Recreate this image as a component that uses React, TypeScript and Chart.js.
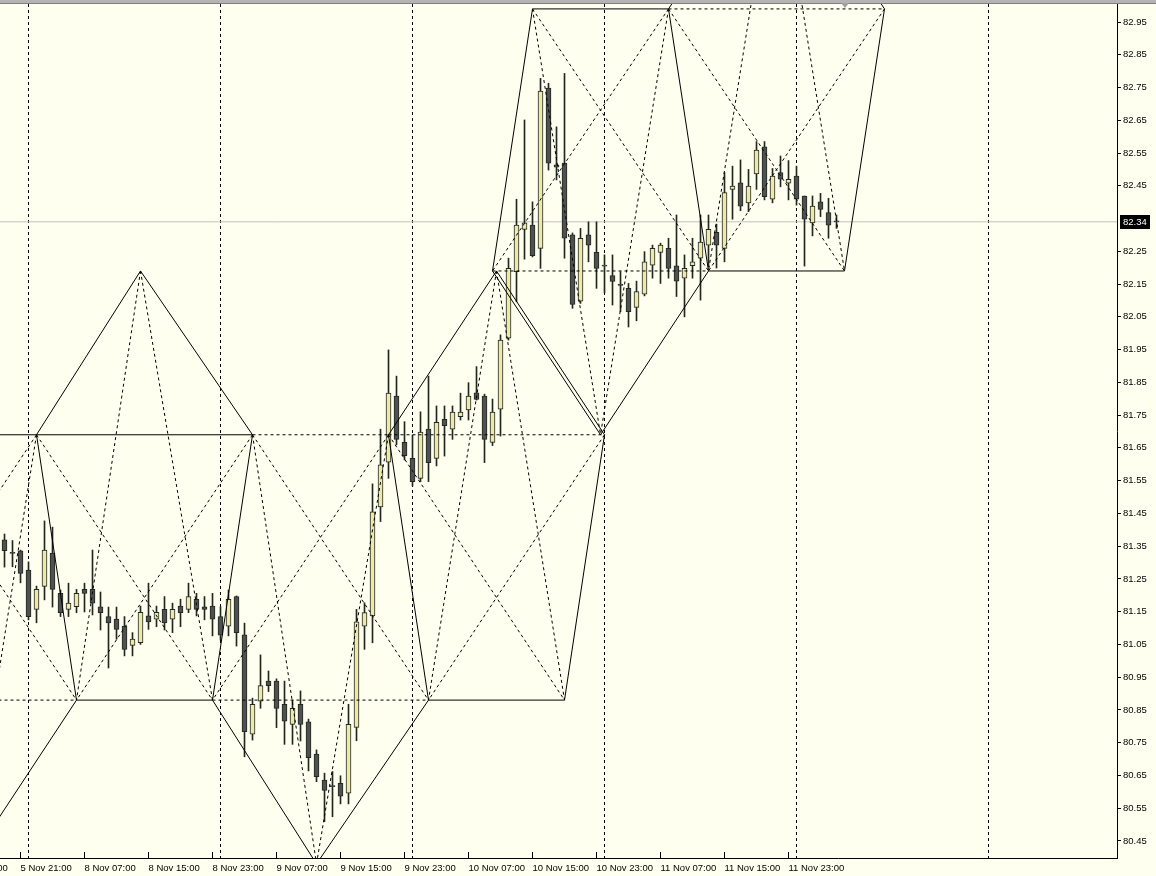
import React, { useEffect, useRef } from 'react';
import { Chart, registerables } from 'chart.js';

Chart.register(...registerables);

// ---------- candle data (H1 bars, index 0 = first visible bar) ----------
const opens = [
  81.369, 81.330, 81.336, 81.277, 81.157, 81.227, 81.329, 81.206, 81.157, 81.165,
  81.218, 81.218, 81.165, 81.135, 81.127, 81.106, 81.047, 81.055, 81.137, 81.127,
  81.157, 81.127, 81.167, 81.157, 81.188, 81.165, 81.167, 81.135, 81.106, 81.196,
  81.079, 80.776, 80.877, 80.938, 80.938, 80.867, 80.806, 80.867, 80.814, 80.715,
  80.636, 80.618, 80.626, 80.596, 80.797, 81.106, 81.137, 81.470, 81.606, 81.808,
  81.667, 81.618, 81.557, 81.707, 81.618, 81.737, 81.707, 81.745, 81.766, 81.818,
  81.808, 81.667, 81.768, 81.985, 82.188, 82.317, 82.330, 82.259, 82.748, 82.514,
  82.519, 82.300, 82.098, 82.300, 82.247, 82.208, 82.176, 82.150, 82.137, 82.079,
  82.119, 82.208, 82.247, 82.259, 82.206, 82.168, 82.206, 82.229, 82.269, 82.308,
  82.259, 82.439, 82.459, 82.398, 82.486, 82.569, 82.409, 82.490, 82.458, 82.480,
  82.419, 82.337, 82.401, 82.368, 82.340,
];
const highs = [
  81.387, 81.367, 81.338, 81.302, 81.228, 81.427, 81.408, 81.216, 81.237, 81.218,
  81.237, 81.338, 81.210, 81.164, 81.164, 81.135, 81.086, 81.167, 81.237, 81.167,
  81.196, 81.176, 81.188, 81.237, 81.206, 81.196, 81.206, 81.165, 81.216, 81.198,
  81.115, 80.886, 81.018, 80.969, 80.945, 80.938, 80.880, 80.908, 80.822, 80.728,
  80.657, 80.662, 80.649, 80.867, 81.157, 81.177, 81.540, 81.707, 81.949, 81.869,
  81.730, 81.689, 81.760, 81.869, 81.778, 81.778, 81.778, 81.817, 81.849, 81.898,
  81.814, 81.799, 81.995, 82.229, 82.409, 82.651, 82.401, 82.778, 82.763, 82.630,
  82.793, 82.306, 82.320, 82.340, 82.340, 82.239, 82.239, 82.188, 82.152, 82.159,
  82.249, 82.269, 82.275, 82.290, 82.361, 82.239, 82.290, 82.361, 82.361, 82.333,
  82.490, 82.510, 82.529, 82.500, 82.585, 82.585, 82.503, 82.541, 82.527, 82.510,
  82.419, 82.419, 82.427, 82.412, 82.361,
];
const lows = [
  81.286, 81.287, 81.238, 81.125, 81.116, 81.186, 81.164, 81.135, 81.135, 81.147,
  81.149, 81.140, 81.094, 80.978, 81.066, 81.015, 81.015, 81.050, 81.096, 81.104,
  81.094, 81.086, 81.104, 81.147, 81.137, 81.125, 81.076, 81.064, 81.076, 81.045,
  80.707, 80.758, 80.855, 80.906, 80.796, 80.745, 80.745, 80.755, 80.664, 80.631,
  80.509, 80.524, 80.563, 80.563, 80.756, 81.035, 81.055, 81.425, 81.557, 81.659,
  81.613, 81.534, 81.547, 81.547, 81.595, 81.625, 81.676, 81.735, 81.735, 81.796,
  81.605, 81.657, 81.686, 81.979, 82.096, 82.226, 82.233, 82.198, 82.498, 82.468,
  82.229, 82.076, 82.091, 82.218, 82.137, 82.123, 82.086, 82.066, 82.019, 82.038,
  82.114, 82.168, 82.152, 82.168, 82.112, 82.050, 82.168, 82.101, 82.203, 82.199,
  82.218, 82.348, 82.374, 82.371, 82.439, 82.407, 82.398, 82.447, 82.407, 82.391,
  82.205, 82.297, 82.356, 82.290, 82.320,
];
const closes = [
  81.336, 81.328, 81.267, 81.135, 81.218, 81.338, 81.218, 81.147, 81.176, 81.206,
  81.206, 81.176, 81.147, 81.116, 81.096, 81.035, 81.066, 81.148, 81.119, 81.148,
  81.116, 81.157, 81.147, 81.196, 81.157, 81.157, 81.127, 81.078, 81.188, 81.086,
  80.784, 80.867, 80.924, 80.924, 80.855, 80.816, 80.855, 80.806, 80.704, 80.646,
  80.604, 80.616, 80.587, 80.806, 81.119, 81.147, 81.455, 81.598, 81.817, 81.676,
  81.626, 81.547, 81.698, 81.605, 81.728, 81.718, 81.759, 81.759, 81.808, 81.798,
  81.676, 81.759, 81.979, 82.198, 82.330, 82.337, 82.237, 82.739, 82.519, 82.507,
  82.290, 82.088, 82.290, 82.269, 82.198, 82.205, 82.158, 82.146, 82.066, 82.127,
  82.218, 82.259, 82.269, 82.198, 82.159, 82.198, 82.218, 82.278, 82.317, 82.269,
  82.429, 82.449, 82.388, 82.449, 82.559, 82.417, 82.480, 82.470, 82.470, 82.409,
  82.348, 82.388, 82.378, 82.330, 82.340,
];

// ---------- axes ----------
const timeTickBars = [-6, 2, 10, 18, 26, 34, 42, 50, 58, 66, 74, 82, 90, 98];
const timeTickLabels = [
  '5 Nov 13:00', '5 Nov 21:00', '8 Nov 07:00', '8 Nov 15:00', '8 Nov 23:00',
  '9 Nov 07:00', '9 Nov 15:00', '9 Nov 23:00', '10 Nov 07:00', '10 Nov 15:00',
  '10 Nov 23:00', '11 Nov 07:00', '11 Nov 15:00', '11 Nov 23:00',
];
const gridBars = [3, 27, 51, 75, 99, 123];
const priceTicks = [
  80.45, 80.55, 80.65, 80.75, 80.85, 80.95, 81.05, 81.15, 81.25, 81.35, 81.45,
  81.55, 81.65, 81.75, 81.85, 81.95, 82.05, 82.15, 82.25, 82.45, 82.55, 82.65,
  82.75, 82.85, 82.95,
];
const bidPrice = 82.34;

// ---------- drawn pattern (bar index, price) ----------
const LV0 = 83.49;
const LV1 = 82.99;
const LV2 = 82.19;
const LV3 = 81.69;
const LV4 = 80.88;
const LV5 = 80.38;

const solidSegments: number[][] = [
  [-13, LV3, 4, LV3], [4, LV3, 9, LV4], [-13, LV3, -18, LV4], [9, LV4, -4.5, LV5], [-18, LV4, -4.5, LV5],
  [4, LV3, 31, LV3], [17, LV2, 4, LV3], [17, LV2, 31, LV3], [31, LV3, 26, LV4], [9, LV4, 26, LV4],
  [48, LV3, 53, LV4], [26, LV4, 39, LV5], [53, LV4, 39, LV5],
  [48, LV3, 61.5, LV2], [61.5, LV2, 75, LV3], [75, LV3, 70, LV4], [53, LV4, 70, LV4],
  [66, LV1, 83, LV1], [66, LV1, 61, LV2], [83, LV1, 88, LV2], [61, LV2, 74.5, LV3], [88, LV2, 74.5, LV3],
  [83, LV1, 96.5, LV0], [96.5, LV0, 110, LV1], [110, LV1, 105, LV2], [88, LV2, 105, LV2],
];
const dashedSegments: number[][] = [
  [-18, LV4, 9, LV4], [-13, LV3, -4.5, LV5], [4, LV3, -4.5, LV5], [-13, LV3, 9, LV4], [4, LV3, -18, LV4],
  [17, LV2, 9, LV4], [17, LV2, 26, LV4], [4, LV3, 26, LV4], [31, LV3, 9, LV4],
  [31, LV3, 48, LV3], [26, LV4, 53, LV4], [31, LV3, 39, LV5], [48, LV3, 39, LV5], [31, LV3, 53, LV4], [48, LV3, 26, LV4],
  [48, LV3, 75, LV3], [61.5, LV2, 53, LV4], [61.5, LV2, 70, LV4], [48, LV3, 70, LV4], [75, LV3, 53, LV4],
  [61, LV2, 88, LV2], [66, LV1, 74.5, LV3], [83, LV1, 74.5, LV3], [66, LV1, 88, LV2], [83, LV1, 61, LV2],
  [83, LV1, 110, LV1], [96.5, LV0, 88, LV2], [96.5, LV0, 105, LV2], [83, LV1, 105, LV2], [110, LV1, 88, LV2],
];

// ---------- view ----------
const X_MIN = -0.5625;
const X_MAX = 139.0625;
const Y_MIN = 80.398;
const Y_MAX = 83.005;

const BG = '#FFFFF0';
const BULL = '#EEE8AA';
const BEAR = '#505050';
const EDGE = '#202820';
const FONT = '"Liberation Sans", Arial, sans-serif';
const FONT_SIZE = 9.5;
const CLEAR = 'rgba(0,0,0,0)';

function toPath(segs: number[][]) {
  const pts: { x: number; y: number | null }[] = [];
  segs.forEach(([x1, y1, x2, y2]) => {
    pts.push({ x: x1, y: y1 }, { x: x2, y: y2 }, { x: x2, y: null });
  });
  return pts;
}

export default function App() {
  const ref = useRef<HTMLCanvasElement>(null);

  useEffect(() => {
    const canvas = ref.current;
    if (!canvas) return;

    const bodies = opens.map((o, i) => ({ x: i, y: [o, closes[i]] }));
    const wicks = lows.map((l, i) => ({ x: i, y: [l, highs[i]] }));
    const bodyColors = opens.map((o, i) => (closes[i] > o ? BULL : BEAR));

    const xTickValues = [...timeTickBars, ...gridBars].sort((a, b) => a - b);
    const isGrid = (v: number) => gridBars.includes(v);

    const bgPlugin = {
      id: 'bg',
      beforeDraw(chart: any) {
        const { ctx, width, height } = chart;
        ctx.save();
        ctx.fillStyle = BG;
        ctx.fillRect(0, 0, width, height);
        ctx.fillStyle = '#b4b4b4';
        ctx.fillRect(0, 0, width, 3);
        ctx.fillStyle = '#808080';
        ctx.fillRect(0, 3, width, 1);
        ctx.restore();
      },
    };

    const bidPlugin = {
      id: 'bidLabel',
      afterDraw(chart: any) {
        const { ctx } = chart;
        const ys = chart.scales.y;
        const y = Math.round(ys.getPixelForValue(bidPrice));
        ctx.save();
        ctx.fillStyle = '#000';
        ctx.fillRect(ys.left + 3, y - 7, 30, 14);
        ctx.fillStyle = '#fff';
        ctx.font = `${FONT_SIZE}px ${FONT}`;
        ctx.textAlign = 'left';
        ctx.textBaseline = 'middle';
        ctx.fillText(bidPrice.toFixed(2), ys.left + 6, y);
        // chart shift marker
        const xs = chart.scales.x;
        const sx = Math.round(xs.getPixelForValue(105));
        ctx.fillStyle = '#a0a0a0';
        ctx.beginPath();
        ctx.moveTo(sx - 4, 3);
        ctx.lineTo(sx + 4, 3);
        ctx.lineTo(sx, 8);
        ctx.closePath();
        ctx.fill();
        ctx.restore();
      },
    };

    const chart = new Chart(canvas, {
      type: 'bar',
      data: {
        datasets: [
          {
            type: 'line',
            data: toPath(solidSegments),
            borderColor: '#000',
            borderWidth: 1,
            pointRadius: 0,
            tension: 0,
            spanGaps: false,
            clip: 0,
            order: 1,
          } as any,
          {
            type: 'line',
            data: toPath(dashedSegments),
            borderColor: '#000',
            borderWidth: 1,
            borderDash: [3, 3],
            pointRadius: 0,
            tension: 0,
            spanGaps: false,
            clip: 0,
            order: 1,
          } as any,
          {
            type: 'bar',
            data: bodies,
            backgroundColor: bodyColors,
            borderColor: EDGE,
            borderWidth: 1,
            borderSkipped: false,
            barThickness: 5,
            minBarLength: 1,
            grouped: false,
            order: 2,
          } as any,
          {
            type: 'bar',
            data: wicks,
            backgroundColor: EDGE,
            borderWidth: 0,
            barThickness: 1,
            grouped: false,
            order: 3,
          } as any,
          {
            type: 'line',
            data: [
              { x: X_MIN, y: bidPrice },
              { x: X_MAX, y: bidPrice },
            ],
            borderColor: '#c0c0c0',
            borderWidth: 1,
            pointRadius: 0,
            order: 4,
          } as any,
        ],
      },
      options: {
        responsive: false,
        animation: false,
        devicePixelRatio: 1,
        events: [],
        layout: { padding: { top: 4, left: 0, right: 0, bottom: 0 }, autoPadding: false },
        plugins: { legend: { display: false }, tooltip: { enabled: false } },
        scales: {
          x: {
            type: 'linear',
            position: 'bottom',
            min: X_MIN,
            max: X_MAX,
            offset: false,
            grid: {
              offset: false,
              drawOnChartArea: true,
              drawTicks: true,
              tickLength: -6,
              lineWidth: 1,
              color: (c: any) => (c.tick && isGrid(c.tick.value) ? '#000' : CLEAR),
              tickColor: (c: any) => (c.tick && isGrid(c.tick.value) ? CLEAR : '#000'),
            },
            border: { display: true, color: '#000', width: 1, dash: [3, 3] },
            ticks: {
              autoSkip: false,
              maxRotation: 0,
              minRotation: 0,
              align: 'start',
              padding: 11,
              color: '#000',
              font: { family: FONT, size: FONT_SIZE },
              callback: (_v: any, i: number, ticks: any[]) => {
                const k = timeTickBars.indexOf(ticks[i].value);
                return k >= 0 ? timeTickLabels[k] : '';
              },
            },
            afterBuildTicks: (s: any) => {
              s.ticks = xTickValues.map((v) => ({ value: v }));
            },
            afterFit: (s: any) => {
              s.height = 18;
              s.paddingLeft = 0;
              s.paddingRight = 0;
            },
          } as any,
          y: {
            type: 'linear',
            position: 'right',
            min: Y_MIN,
            max: Y_MAX,
            grid: { offset: false, drawOnChartArea: false, drawTicks: true, tickLength: 4, color: '#000' },
            border: { display: true, color: '#000', width: 1 },
            ticks: {
              padding: 2,
              color: '#000',
              font: { family: FONT, size: FONT_SIZE },
              callback: (v: any) => Number(v).toFixed(2),
            },
            afterBuildTicks: (s: any) => {
              s.ticks = priceTicks.map((v) => ({ value: v }));
            },
            afterFit: (s: any) => {
              s.width = 39;
              s.paddingTop = 0;
              s.paddingBottom = 0;
            },
          } as any,
        },
      } as any,
      plugins: [bgPlugin, bidPlugin],
    });

    return () => chart.destroy();
  }, []);

  return (
    <div style={{ position: 'fixed', left: 0, top: 0, width: 1156, height: 876, background: BG }}>
      <canvas ref={ref} width={1156} height={876} style={{ display: 'block', width: 1156, height: 876 }} />
    </div>
  );
}
